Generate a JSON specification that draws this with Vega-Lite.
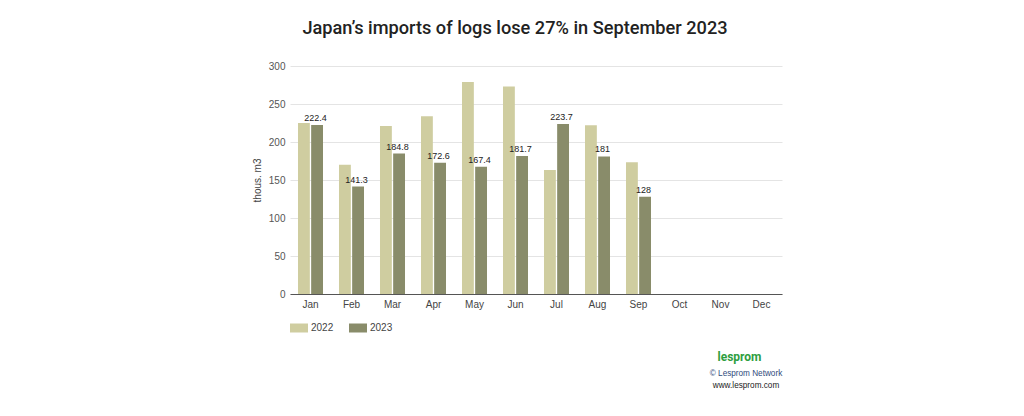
{
  "$schema": "https://vega.github.io/schema/vega-lite/v6.json",
  "width": 492,
  "height": 228,
  "autosize": {"type": "none"},
  "padding": {"left": 290, "top": 66, "right": 242, "bottom": 122},
  "background": "white",
  "config": {"view": {"stroke": null}, "font": "Liberation Sans"},
  "title": {
    "text": "Japan’s imports of logs lose 27% in September 2023",
    "font": "Roboto", "fontSize": 18.2, "fontWeight": 500, "color": "#222222",
    "anchor": "middle", "frame": "group", "dx": -21, "offset": 23
  },
  "data": {
    "values": [
      {"month": "Jan", "year": "2022", "value": 225},
      {"month": "Jan", "year": "2023", "value": 222.4},
      {"month": "Feb", "year": "2022", "value": 170},
      {"month": "Feb", "year": "2023", "value": 141.3},
      {"month": "Mar", "year": "2022", "value": 221},
      {"month": "Mar", "year": "2023", "value": 184.8},
      {"month": "Apr", "year": "2022", "value": 234},
      {"month": "Apr", "year": "2023", "value": 172.6},
      {"month": "May", "year": "2022", "value": 279},
      {"month": "May", "year": "2023", "value": 167.4},
      {"month": "Jun", "year": "2022", "value": 273},
      {"month": "Jun", "year": "2023", "value": 181.7},
      {"month": "Jul", "year": "2022", "value": 163},
      {"month": "Jul", "year": "2023", "value": 223.7},
      {"month": "Aug", "year": "2022", "value": 222},
      {"month": "Aug", "year": "2023", "value": 181},
      {"month": "Sep", "year": "2022", "value": 173.5},
      {"month": "Sep", "year": "2023", "value": 128},
      {"month": "Oct", "year": "2022", "value": 0},
      {"month": "Oct", "year": "2023", "value": 0},
      {"month": "Nov", "year": "2022", "value": 0},
      {"month": "Nov", "year": "2023", "value": 0},
      {"month": "Dec", "year": "2022", "value": 0},
      {"month": "Dec", "year": "2023", "value": 0}
    ]
  },
  "layer": [
    {
      "mark": {"type": "bar", "strokeWidth": 0},
      "encoding": {
        "x": {
          "field": "month", "type": "nominal",
          "scale": {"domain": ["Jan","Feb","Mar","Apr","May","Jun","Jul","Aug","Sep","Oct","Nov","Dec"], "paddingInner": 0.39, "paddingOuter": 0.195},
          "axis": {
            "title": "© Lesprom Network", "titleFont": "Liberation Sans", "titleFontSize": 8.2, "titleFontWeight": "normal",
            "titleColor": "#2f4b7c", "titleX": 455.5, "titleY": 79, "titleAlign": "center", "titleBaseline": "middle",
            "labelAngle": 0, "labelFont": "Liberation Sans", "labelFontSize": 10, "labelColor": "#444444", "labelPadding": 5,
            "ticks": false, "domainColor": "#555555", "grid": false
          }
        },
        "xOffset": {"field": "year", "type": "nominal", "scale": {"paddingInner": 0.1}},
        "y": {
          "field": "value", "type": "quantitative",
          "scale": {"domain": [0, 300]},
          "axis": {
            "title": "thous. m3", "titleFont": "Liberation Sans", "titleFontSize": 10, "titleFontWeight": "normal",
            "titleColor": "#444444", "titlePadding": 6,
            "values": [0, 50, 100, 150, 200, 250, 300],
            "labelFont": "Liberation Sans", "labelFontSize": 10, "labelColor": "#555555", "labelPadding": 5,
            "ticks": false, "domain": false, "gridColor": "#e4e4e4"
          }
        },
        "color": {
          "field": "year", "type": "nominal",
          "scale": {"domain": ["2022", "2023"], "range": ["#cfcda0", "#898c6a"]},
          "legend": {
            "orient": "none", "legendX": 0, "legendY": 253, "direction": "horizontal", "title": null,
            "symbolType": "M-1,-0.5H1V0.5H-1Z", "symbolSize": 324, "symbolStrokeWidth": 0,
            "labelFont": "Liberation Sans", "labelFontSize": 10, "labelColor": "#444444", "labelOffset": 3,
            "columnPadding": 15, "padding": 0
          }
        }
      }
    },
    {
      "transform": [{"filter": "datum.year == '2023' && datum.value > 0"}],
      "mark": {"type": "text", "baseline": "alphabetic", "dy": -4, "dx": -1.5, "fontSize": 9, "font": "Liberation Sans", "color": "#222222"},
      "encoding": {
        "x": {
          "field": "month", "type": "nominal",
          "scale": {"domain": ["Jan","Feb","Mar","Apr","May","Jun","Jul","Aug","Sep","Oct","Nov","Dec"], "paddingInner": 0.39, "paddingOuter": 0.195},
          "axis": {
            "orient": "bottom", "labels": false, "ticks": false, "domain": false, "grid": false,
            "title": "www.lesprom.com", "titleFont": "Liberation Sans", "titleFontSize": 8.2, "titleFontWeight": "normal",
            "titleColor": "#222222", "titleX": 455.5, "titleY": 91, "titleAlign": "center", "titleBaseline": "middle"
          }
        },
        "xOffset": {"field": "year", "type": "nominal", "scale": {"domain": ["2022", "2023"], "paddingInner": 0.1}},
        "y": {
          "field": "value", "type": "quantitative",
          "scale": {"domain": [0, 300]},
          "axis": {
            "orient": "right", "labels": false, "ticks": false, "domain": false, "grid": false,
            "title": "lesprom", "titleFont": "Roboto", "titleFontSize": 12, "titleFontWeight": "bold",
            "titleColor": "#2e9e3f", "titleAngle": 0, "titleX": -43, "titleY": 290,
            "titleAlign": "center", "titleBaseline": "middle"
          }
        },
        "text": {"field": "value", "type": "quantitative", "format": "~r"}
      }
    }
  ],
  "resolve": {"axis": {"x": "independent", "y": "independent"}}
}
